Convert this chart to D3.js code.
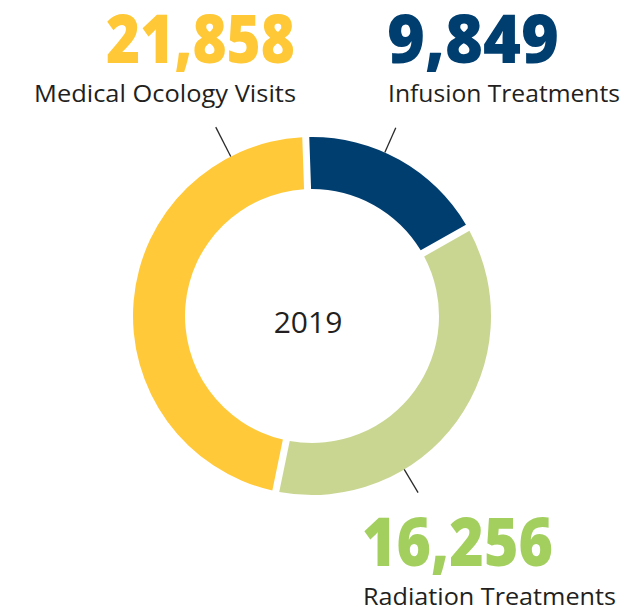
<!DOCTYPE html>
<html>
<head>
<meta charset="utf-8">
<script src="https://cdn.jsdelivr.net/npm/d3@7"></script>
<style>
  html, body { margin: 0; padding: 0; background: #ffffff; }
  svg { display: block; }
</style>
</head>
<body>
<svg id="chart" width="628" height="609"></svg>
<script>
// ---- data (drawn order, clockwise from top) ----
const categories = ["Infusion Treatments", "Radiation Treatments", "Medical Ocology Visits"];
const values = [9849, 16256, 21858];
// share of the ring each slice occupies (%)
const arcShare = [17.1, 36.5, 46.4];
const centerLabel = "2019";

// ---- styling / layout ----
const arcColors = ["#003e70", "#c9d692", "#ffc93a"];
const numColors = ["#003e70", "#a3cf5f", "#ffc836"];
const W = 628, H = 609;
const cx = 312, cy = 316, R = 179, r0 = 127;
const deg = Math.PI / 180;

const svg = d3.select("#chart");
const g = svg.append("g").attr("transform", `translate(${cx},${cy})`);

const pie = d3.pie()
  .sort(null)
  .value((d, i) => arcShare[i])
  .startAngle(-2 * deg)
  .endAngle(358 * deg)
  .padAngle(0.032);

const arc = d3.arc().innerRadius(r0).outerRadius(R);

const arcs = pie(values);
g.selectAll("path.slice")
  .data(arcs)
  .join("path")
  .attr("class", "slice")
  .attr("d", arc)
  .attr("fill", (d, i) => arcColors[i]);

// leader lines (angle per slice, in degrees clockwise from top)
const leaderAngle = [24, 149, -27];
const leaderLen = [206, 206, 212];
const radial = d3.scaleLinear().domain([0, 1]).range([R, 0]);
g.selectAll("line.leader")
  .data(arcs)
  .join("line")
  .attr("class", "leader")
  .attr("x1", (d, i) => R * Math.sin(leaderAngle[i] * deg))
  .attr("y1", (d, i) => -R * Math.cos(leaderAngle[i] * deg))
  .attr("x2", (d, i) => leaderLen[i] * Math.sin(leaderAngle[i] * deg))
  .attr("y2", (d, i) => -leaderLen[i] * Math.cos(leaderAngle[i] * deg))
  .attr("stroke", "#2a2a2a")
  .attr("stroke-width", 1.3);

// center label
g.append("text")
  .attr("x", -4)
  .attr("y", 17)
  .attr("text-anchor", "middle")
  .attr("font-family", "'Open Sans', sans-serif")
  .attr("font-size", 30)
  .attr("fill", "#231f20")
  .text(centerLabel);

// number + label blocks
const fmt = d3.format(",");
const blocks = [
  { nx: 387, ny: 63, nlen: 172, lx: 388, ly: 102, llen: 232 },
  { nx: 362, ny: 566, nlen: 191, lx: 363, ly: 605, llen: 253 },
  { nx: 106, ny: 63, nlen: 189, lx: 34, ly: 102, llen: 262 }
];

const lab = svg.selectAll("g.lab")
  .data(values)
  .join("g")
  .attr("class", "lab");

lab.append("text")
  .attr("x", (d, i) => blocks[i].nx)
  .attr("y", (d, i) => blocks[i].ny)
  .attr("font-family", "'Open Sans', sans-serif")
  .attr("font-weight", 800)
  .attr("font-size", 67)
  .attr("textLength", (d, i) => blocks[i].nlen)
  .attr("lengthAdjust", "spacingAndGlyphs")
  .attr("fill", (d, i) => numColors[i])
  .text(d => fmt(d));

lab.append("text")
  .attr("x", (d, i) => blocks[i].lx)
  .attr("y", (d, i) => blocks[i].ly)
  .attr("font-family", "'Open Sans', sans-serif")
  .attr("font-size", 24)
  .attr("textLength", (d, i) => blocks[i].llen)
  .attr("lengthAdjust", "spacingAndGlyphs")
  .attr("fill", "#231f20")
  .text((d, i) => categories[i]);
</script>
</body>
</html>
